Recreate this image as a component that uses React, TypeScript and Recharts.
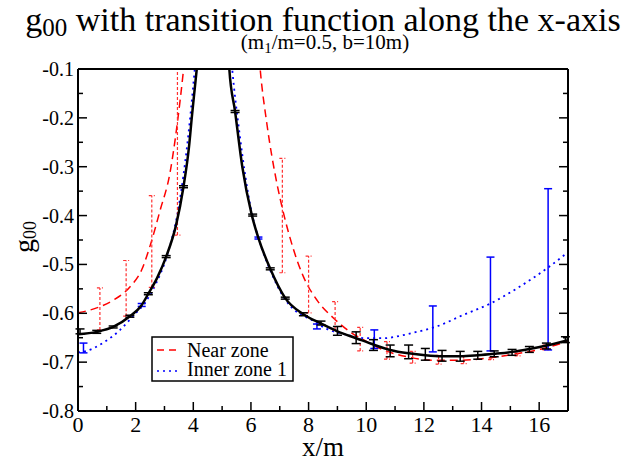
import React from 'react';
import { ComposedChart, Line, Scatter, ErrorBar, XAxis, YAxis } from 'recharts';

const FONT = '"Liberation Serif", "Times New Roman", serif';

// tick positions (major every 2 on x, every 0.1 on y)
const xTicks = [0, 1, 2, 3, 4, 5, 6, 7, 8, 9, 10, 11, 12, 13, 14, 15, 16, 17];
const yTicks = [-0.8, -0.75, -0.7, -0.65, -0.6, -0.55, -0.5, -0.45, -0.4, -0.35, -0.3, -0.25, -0.2, -0.15, -0.1];

// full solution, split at the mass near x = 5
const blackLeft = [
  [0, -0.643], [0.65, -0.638], [1.22, -0.628], [1.8, -0.606], [2.2, -0.584], [2.44, -0.56],
  [2.75, -0.527], [3.06, -0.484], [3.4, -0.42], [3.66, -0.341], [3.85, -0.26], [3.95, -0.198],
  [4.05, -0.14], [4.12, -0.1], [4.2, -0.05],
];
const blackRight = [
  [5.18, 0.0], [5.25, -0.1], [5.45, -0.187], [5.7, -0.3], [6.03, -0.399], [6.26, -0.446],
  [6.67, -0.509], [7.19, -0.569], [7.82, -0.602], [8.43, -0.621], [9.0, -0.637], [9.65, -0.651],
  [10.25, -0.664], [10.83, -0.675], [11.47, -0.682], [12.05, -0.686], [12.63, -0.688],
  [13.26, -0.688], [13.87, -0.686], [14.44, -0.683], [15.06, -0.679], [15.66, -0.673],
  [16.25, -0.666], [17, -0.655],
];

// near zone
const nearLeft = [
  [0, -0.599], [0.65, -0.589], [1.23, -0.573], [1.8, -0.546], [2.21, -0.511], [2.5, -0.462],
  [2.85, -0.389], [3.19, -0.313], [3.43, -0.218], [3.66, -0.102], [3.75, -0.05],
];
const nearRight = [
  [6.25, -0.05], [6.32, -0.1], [6.55, -0.211], [6.9, -0.334], [7.13, -0.395], [7.48, -0.47],
  [7.82, -0.525], [8.29, -0.573], [8.87, -0.61], [9.44, -0.638], [10.02, -0.658], [10.6, -0.675],
  [11.41, -0.689], [12.34, -0.696], [13.3, -0.696], [14.3, -0.691], [15.2, -0.683],
  [16.15, -0.672], [17, -0.657],
];

// inner zone 1
const innerLeft = [
  [0, -0.68], [0.24, -0.678], [0.88, -0.66], [1.46, -0.634], [1.92, -0.605], [2.33, -0.578],
  [2.7, -0.54], [3.1, -0.48], [3.5, -0.38], [3.8, -0.25], [4.05, -0.1], [4.15, -0.03],
];
const innerRight = [
  [5.25, -0.03], [5.35, -0.1], [5.6, -0.23], [6.03, -0.395], [6.26, -0.446], [6.67, -0.512],
  [7.19, -0.572], [7.6, -0.598], [8.06, -0.612], [8.63, -0.632], [9.33, -0.644], [10.02, -0.651],
  [10.6, -0.651], [11.18, -0.646], [11.76, -0.638], [12.4, -0.628], [13.38, -0.603],
  [14.31, -0.58], [15.23, -0.549], [16.27, -0.508], [17, -0.475],
];

// [x, value, error below, error above]
const blackPoints = [
  [0.07, -0.637, 0.005, 0.005], [0.65, -0.638, 0.003, 0.003], [1.22, -0.628, 0.002, 0.002],
  [1.8, -0.606, 0.002, 0.002], [2.44, -0.56, 0.002, 0.002], [3.06, -0.484, 0.002, 0.002],
  [3.66, -0.341, 0.002, 0.002], [5.45, -0.187, 0.002, 0.002], [6.06, -0.399, 0.002, 0.002],
  [6.67, -0.509, 0.002, 0.002], [7.19, -0.569, 0.002, 0.002], [7.82, -0.602, 0.003, 0.003],
  [8.43, -0.62, 0.004, 0.004], [9.0, -0.636, 0.009, 0.009], [9.65, -0.65, 0.012, 0.012],
  [10.25, -0.665, 0.011, 0.011], [10.83, -0.677, 0.012, 0.012], [11.47, -0.679, 0.014, 0.014],
  [12.05, -0.684, 0.012, 0.012], [12.63, -0.687, 0.011, 0.011], [13.26, -0.688, 0.01, 0.01],
  [13.87, -0.686, 0.008, 0.008], [14.44, -0.683, 0.006, 0.006], [15.06, -0.68, 0.006, 0.006],
  [15.66, -0.674, 0.006, 0.006], [16.25, -0.667, 0.006, 0.006], [16.91, -0.654, 0.006, 0.006],
];
// the bar at x = 3.45 runs off the top of the frame
const nearPoints = [
  [0.76, -0.591, 0.043, 0.043], [1.67, -0.549, 0.057, 0.057], [2.56, -0.453, 0.094, 0.094],
  [3.45, -0.21, 0.23, 0.11], [7.09, -0.4, 0.117, 0.117], [8.0, -0.541, 0.058, 0.058],
  [8.92, -0.605, 0.029, 0.029], [9.79, -0.653, 0.024, 0.024], [10.72, -0.676, 0.018, 0.018],
  [11.61, -0.69, 0.012, 0.012], [12.51, -0.695, 0.009, 0.009], [13.38, -0.695, 0.008, 0.008],
  [14.33, -0.689, 0.006, 0.006], [15.25, -0.683, 0.004, 0.004], [16.22, -0.67, 0.005, 0.005],
];
const innerPoints = [
  [0.19, -0.671, 0.01, 0.01], [2.21, -0.583, 0.003, 0.003], [6.26, -0.446, 0.002, 0.002],
  [8.29, -0.627, 0.005, 0.005], [10.28, -0.653, 0.019, 0.019], [12.31, -0.632, 0.047, 0.047],
  [14.31, -0.581, 0.096, 0.096], [16.31, -0.51, 0.165, 0.165],
];

const legendItems = [
  { label: 'Near zone', color: '#ff0000', dash: '7 5' },
  { label: 'Inner zone 1', color: '#0000ff', dash: '2 4' },
];

const toPts = (arr: number[][]) => arr.map(([x, y]) => ({ x, y }));
const toErr = (arr: number[][]) => arr.map(([x, y, lo, hi]) => ({ x, y, err: [lo, hi] }));

const BottomTick = (props: any) => {
  const { x, y, payload } = props;
  const major = payload.value % 2 === 0;
  return (
    <g>
      <line x1={x} y1={y} x2={x} y2={y - (major ? 9 : 5)} stroke="#000" strokeWidth={1.5} />
      {major && (
        <text x={x} y={y + 21} textAnchor="middle" fontSize={22} fontFamily={FONT} fill="#000">
          {payload.value}
        </text>
      )}
    </g>
  );
};

const TopTick = (props: any) => {
  const { x, y, payload } = props;
  const major = payload.value % 2 === 0;
  return <line x1={x} y1={y} x2={x} y2={y + (major ? 9 : 5)} stroke="#000" strokeWidth={1.5} />;
};

const isMajorY = (v: number) => Math.round(v * 100) % 10 === 0;

const LeftTick = (props: any) => {
  const { x, y, payload } = props;
  const major = isMajorY(payload.value);
  return (
    <g>
      <line x1={x} y1={y} x2={x + (major ? 9 : 5)} y2={y} stroke="#000" strokeWidth={1.5} />
      {major && (
        <text x={x - 4} y={y} dy="0.35em" textAnchor="end" fontSize={20} fontFamily={FONT} fill="#000">
          {payload.value.toFixed(1)}
        </text>
      )}
    </g>
  );
};

const RightTick = (props: any) => {
  const { x, y, payload } = props;
  const major = isMajorY(payload.value);
  return <line x1={x} y1={y} x2={x - (major ? 9 : 5)} y2={y} stroke="#000" strokeWidth={1.5} />;
};

const hidden = () => <g />;

export default function App() {
  const frame = { stroke: '#000', strokeWidth: 2 };
  return (
    <div style={{ position: 'absolute', left: 0, top: 0, width: 624, height: 462, background: '#fff' }}>
      <ComposedChart width={624} height={462} margin={{ top: 59, right: 46, bottom: 21, left: 18 }}>
        <XAxis dataKey="x" type="number" domain={[0, 17]} ticks={xTicks} interval={0} allowDataOverflow
          height={30} tickSize={0} tickMargin={0} tickLine={false} axisLine={frame} tick={BottomTick} />
        <XAxis xAxisId="top" orientation="top" type="number" domain={[0, 17]} ticks={xTicks} interval={0}
          allowDataOverflow height={10} tickSize={0} tickMargin={0} tickLine={false} axisLine={frame} tick={TopTick} />
        <YAxis dataKey="y" type="number" domain={[-0.8, -0.1]} ticks={yTicks} interval={0} allowDataOverflow
          width={60} tickSize={0} tickMargin={0} tickLine={false} axisLine={frame} tick={LeftTick} />
        <YAxis yAxisId="right" orientation="right" type="number" domain={[-0.8, -0.1]} ticks={yTicks} interval={0}
          allowDataOverflow width={10} tickSize={0} tickMargin={0} tickLine={false} axisLine={frame} tick={RightTick} />

        <Line data={toPts(innerLeft)} dataKey="y" type="monotone" stroke="#0000ff" strokeWidth={1.8}
          strokeDasharray="2 4" dot={false} isAnimationActive={false} />
        <Line data={toPts(innerRight)} dataKey="y" type="monotone" stroke="#0000ff" strokeWidth={1.8}
          strokeDasharray="2 4" dot={false} isAnimationActive={false} />
        <Line data={toPts(nearLeft)} dataKey="y" type="monotone" stroke="#ff0000" strokeWidth={1.5}
          strokeDasharray="8 5" dot={false} isAnimationActive={false} />
        <Line data={toPts(nearRight)} dataKey="y" type="monotone" stroke="#ff0000" strokeWidth={1.5}
          strokeDasharray="8 5" dot={false} isAnimationActive={false} />

        <Scatter data={toErr(nearPoints)} dataKey="y" shape={hidden} isAnimationActive={false}>
          <ErrorBar dataKey="err" direction="y" width={3} stroke="#ff3030" strokeWidth={1.2}
            strokeDasharray="3 2" isAnimationActive={false} />
        </Scatter>
        <Scatter data={toErr(innerPoints)} dataKey="y" shape={hidden} isAnimationActive={false}>
          <ErrorBar dataKey="err" direction="y" width={4} stroke="#0000ff" strokeWidth={1.5} isAnimationActive={false} />
        </Scatter>

        <Line data={toPts(blackLeft)} dataKey="y" type="monotone" stroke="#000" strokeWidth={2.5}
          dot={false} isAnimationActive={false} />
        <Line data={toPts(blackRight)} dataKey="y" type="monotone" stroke="#000" strokeWidth={2.5}
          dot={false} isAnimationActive={false} />
        <Scatter data={toErr(blackPoints)} dataKey="y" shape={hidden} isAnimationActive={false}>
          <ErrorBar dataKey="err" direction="y" width={4.5} stroke="#000" strokeWidth={1.5} isAnimationActive={false} />
        </Scatter>
      </ComposedChart>

      <svg width={624} height={462} style={{ position: 'absolute', left: 0, top: 0, pointerEvents: 'none' }}
        fontFamily={FONT}>
        <text x={323} y={31} textAnchor="middle" fontSize={34} fill="#000" style={{ whiteSpace: 'pre' }}>
          g<tspan fontSize={25} dy={5}>00</tspan>
          <tspan dy={-5}> with transition function along the x-axis</tspan>
        </text>
        <text x={325} y={49} textAnchor="middle" fontSize={21} fill="#000" style={{ whiteSpace: 'pre' }}>
          (m<tspan fontSize={15} dy={4}>1</tspan>
          <tspan dy={-4}>/m=0.5, b=10m)</tspan>
        </text>
        <text x={323} y={456} textAnchor="middle" fontSize={27} fill="#000">x/m</text>
        <text x={33} y={237} transform="rotate(-90 33 237)" textAnchor="middle" fontSize={28} fill="#000">
          g<tspan fontSize={18} dy={3}>00</tspan>
        </text>

        <rect x={152} y={337} width={141} height={44} fill="#fff" stroke="#000" strokeWidth={1.5} />
        {legendItems.map((item, i) => (
          <g key={item.label}>
            <line x1={157} x2={177} y1={350 + i * 21} y2={350 + i * 21} stroke={item.color}
              strokeWidth={1.6} strokeDasharray={item.dash} />
            <text x={187} y={357 + i * 19} fontSize={20} fill="#000">{item.label}</text>
          </g>
        ))}
      </svg>
    </div>
  );
}
